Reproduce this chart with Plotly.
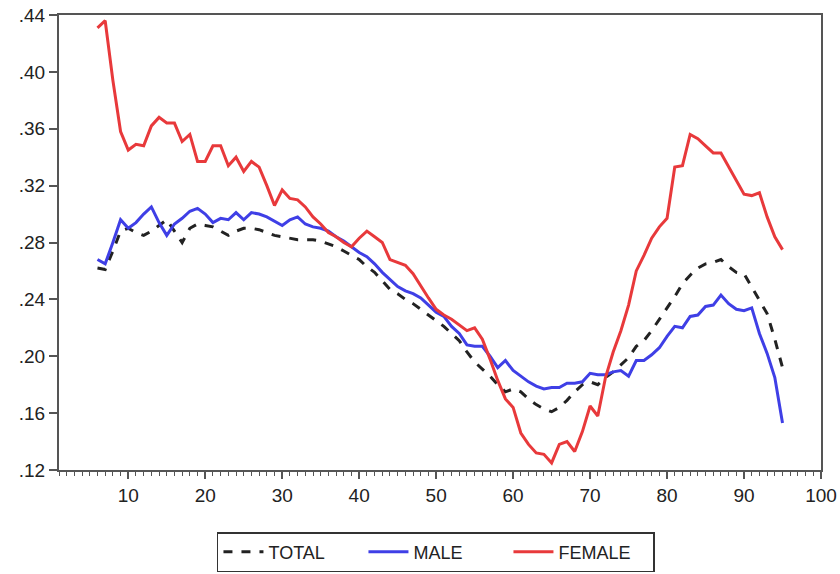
import plotly.graph_objects as go

ages = list(range(6, 96))

total = [0.262, 0.261, 0.274, 0.288, 0.290, 0.287, 0.285, 0.288, 0.292, 0.296,
         0.288, 0.280, 0.290, 0.293, 0.292, 0.291, 0.288, 0.285, 0.288, 0.290,
         0.290, 0.289, 0.287, 0.285, 0.284, 0.283, 0.282, 0.282, 0.282, 0.281,
         0.279, 0.277, 0.274, 0.271, 0.268, 0.263, 0.259, 0.253, 0.247, 0.244,
         0.240, 0.237, 0.233, 0.229, 0.225, 0.221, 0.216, 0.211, 0.203, 0.196,
         0.191, 0.186, 0.180, 0.175, 0.177, 0.175, 0.170, 0.166, 0.163, 0.161,
         0.164, 0.169, 0.175, 0.180, 0.182, 0.180, 0.185, 0.189, 0.194, 0.199,
         0.207, 0.211, 0.218, 0.226, 0.234, 0.242, 0.251, 0.257, 0.262, 0.265,
         0.266, 0.268, 0.263, 0.259, 0.258, 0.249, 0.240, 0.230, 0.212, 0.192]

male = [0.268, 0.265, 0.280, 0.296, 0.290, 0.294, 0.300, 0.305, 0.294, 0.285,
        0.293, 0.297, 0.302, 0.304, 0.300, 0.294, 0.297, 0.296, 0.301, 0.296,
        0.301, 0.300, 0.298, 0.295, 0.292, 0.296, 0.298, 0.293, 0.291, 0.290,
        0.288, 0.284, 0.281, 0.277, 0.273, 0.270, 0.265, 0.259, 0.254, 0.249,
        0.246, 0.244, 0.241, 0.236, 0.231, 0.228, 0.221, 0.216, 0.208, 0.207,
        0.207, 0.200, 0.192, 0.197, 0.190, 0.186, 0.182, 0.179, 0.177, 0.178,
        0.178, 0.181, 0.181, 0.182, 0.188, 0.187, 0.187, 0.189, 0.190, 0.186,
        0.197, 0.197, 0.201, 0.206, 0.214, 0.221, 0.220, 0.228, 0.229, 0.235,
        0.236, 0.243, 0.237, 0.233, 0.232, 0.234, 0.216, 0.202, 0.185, 0.153]

female = [0.431, 0.436, 0.394, 0.358, 0.345, 0.349, 0.348, 0.362, 0.368, 0.364,
          0.364, 0.351, 0.356, 0.337, 0.337, 0.348, 0.348, 0.334, 0.340, 0.330,
          0.337, 0.333, 0.320, 0.306, 0.317, 0.311, 0.310, 0.305, 0.298, 0.293,
          0.287, 0.284, 0.280, 0.277, 0.283, 0.288, 0.284, 0.280, 0.268, 0.266,
          0.264, 0.258, 0.249, 0.241, 0.233, 0.229, 0.226, 0.222, 0.218, 0.220,
          0.212, 0.198, 0.183, 0.170, 0.164, 0.146, 0.138, 0.132, 0.131, 0.125,
          0.138, 0.140, 0.133, 0.147, 0.165, 0.158, 0.185, 0.203, 0.218, 0.236,
          0.260, 0.271, 0.283, 0.291, 0.297, 0.333, 0.334, 0.356, 0.353, 0.348,
          0.343, 0.343, 0.333, 0.324, 0.314, 0.313, 0.315, 0.298, 0.284, 0.275]

y_ticks = [0.12, 0.16, 0.20, 0.24, 0.28, 0.32, 0.36, 0.40, 0.44]
y_tick_labels = [".12", ".16", ".20", ".24", ".28", ".32", ".36", ".40", ".44"]
x_ticks = [10, 20, 30, 40, 50, 60, 70, 80, 90, 100]

FONT = "Liberation Sans Narrow, Arial Narrow, Liberation Sans, Arial, sans-serif"

fig = go.Figure()
fig.add_trace(go.Scatter(x=ages, y=total, mode="lines", name="TOTAL",
                         line=dict(color="#222222", width=3, dash="dash")))
fig.add_trace(go.Scatter(x=ages, y=male, mode="lines", name="MALE",
                         line=dict(color="#3f3fe6", width=3)))
fig.add_trace(go.Scatter(x=ages, y=female, mode="lines", name="FEMALE",
                         line=dict(color="#e8393b", width=3)))

axis_line = "#555555"
fig.update_layout(
    width=840, height=574,
    margin=dict(l=59, r=19, t=15, b=104, autoexpand=False),
    paper_bgcolor="white", plot_bgcolor="white",
    font=dict(family=FONT, size=18, color="#222222"),
    showlegend=True,
    legend=dict(orientation="h", x=0.519, xref="container", xanchor="center",
                y=0.073, yref="container", yanchor="top",
                bordercolor="#333333", borderwidth=1.5, bgcolor="white",
                font=dict(family=FONT, size=18, color="#222222"),
                entrywidth=90, entrywidthmode="pixels",
                itemwidth=40, tracegroupgap=0),
    xaxis=dict(range=[1, 100], showgrid=False, zeroline=False, automargin=False,
               showline=True, linecolor=axis_line, linewidth=2, mirror=True,
               tickmode="array", tickvals=x_ticks, ticks="outside", ticklen=7,
               tickcolor=axis_line, tickwidth=1.5,
               minor=dict(tickmode="linear", tick0=1, dtick=1, ticks="outside",
                          ticklen=4, tickcolor=axis_line, tickwidth=1),
               tickfont=dict(family=FONT, size=19)),
    yaxis=dict(range=[0.12, 0.44], showgrid=False, zeroline=False, automargin=False,
               showline=True, linecolor=axis_line, linewidth=2, mirror=True,
               tickmode="array", tickvals=y_ticks, ticktext=y_tick_labels,
               ticks="outside", ticklen=8, tickcolor=axis_line, tickwidth=1.5,
               tickfont=dict(family=FONT, size=19)),
)

fig.write_html("out.html", config={"displayModeBar": False},
               post_script="document.body.style.margin='0';document.body.style.overflow='hidden';")
